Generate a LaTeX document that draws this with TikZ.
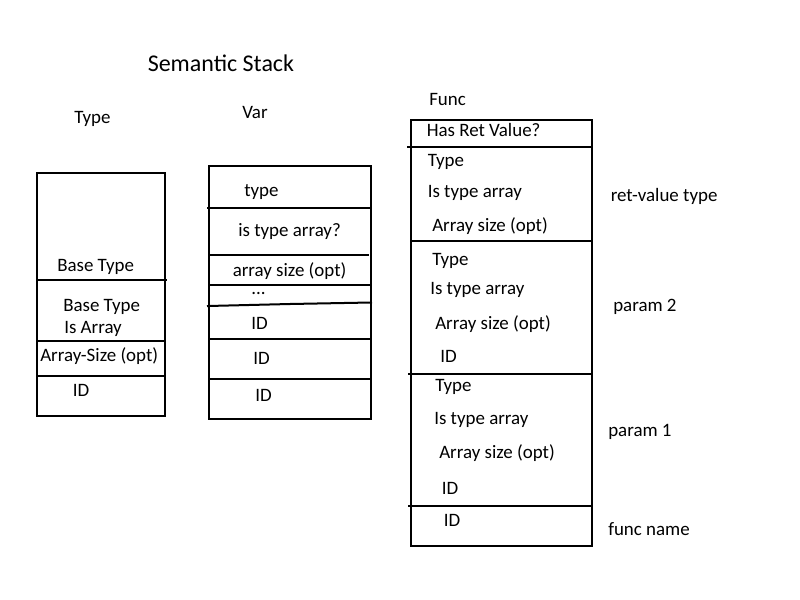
\documentclass[tikz,border=0pt]{standalone}
\usepackage{fontspec}
\setmainfont{Carlito}
\begin{document}
\begin{tikzpicture}[x=0.75pt,y=-0.75pt,
  lbl/.style={anchor=base west,inner sep=0pt,font=\fontsize{14.2}{17}\selectfont},
  ttl/.style={anchor=base west,inner sep=0pt,font=\fontsize{18}{21}\selectfont},
  ln/.style={line width=1.5pt,line cap=rect}]
\useasboundingbox[fill=white] (0,0) rectangle (800,600);
% title and headers
\node[ttl] (title) at (147.5,71) {Semantic Stack};
\node[lbl] (htype) at (74,123) {Type};
\node[lbl] (hvar) at (242,118) {Var};
\node[lbl] (hfunc) at (429,105) {Func};
% Type box
\draw[ln] (37,173) rectangle (165,416);
\draw[ln] (37,279.5) -- (166,279.5);
\draw[ln] (37,341) -- (165,341);
\draw[ln] (39,376) -- (165,376);
\node[lbl] (t1) at (57,271.5) {Base Type};
\node[lbl] (t2) at (63,311) {Base Type};
\node[lbl] (t3) at (64,333.5) {Is Array};
\node[lbl] (t4) at (40,361) {Array-Size (opt)};
\node[lbl] (t5) at (72.5,396) {ID};
% Var box
\draw[ln] (209,166) rectangle (371,419);
\draw[ln] (208,207.5) -- (371,207.5);
\draw[ln] (209,254.5) -- (368,254.5);
\draw[ln] (209,285) -- (371,285);
\draw[ln] (208,306) -- (290,304) -- (371,302.5);
\draw[ln] (209,339) -- (371,339);
\draw[ln] (209,378.5) -- (371,378.5);
\node[lbl] (v1) at (244,196) {type};
\node[lbl] (v2) at (238,236.5) {is type array?};
\node[lbl] (v3) at (232.5,276.5) {array size (opt)};
\node[lbl] (v4) at (251,294) {...};
\node[lbl] (v5) at (251,329) {ID};
\node[lbl] (v6) at (253,364) {ID};
\node[lbl] (v7) at (255,401) {ID};
% Func box
\draw[ln] (411,119.5) rectangle (591.5,545.5);
\draw[ln] (408,146.5) -- (591.5,146.5);
\draw[ln] (411,241) -- (591.5,241);
\draw[ln] (409,373.5) -- (590,373.5);
\draw[ln] (409,505.5) -- (591.5,505.5);
\node[lbl] (f0) at (426.5,136.5) {Has Ret Value?};
\node[lbl] (f1) at (427.5,166) {Type};
\node[lbl] (f2) at (427.5,197) {Is type array};
\node[lbl] (f3) at (432,231.5) {Array size (opt)};
\node[lbl] (f4) at (432,265) {Type};
\node[lbl] (f5) at (430,294) {Is type array};
\node[lbl] (f6) at (435,329.5) {Array size (opt)};
\node[lbl] (f7) at (440,362.5) {ID};
\node[lbl] (f8) at (435,391.5) {Type};
\node[lbl] (f9) at (434,424) {Is type array};
\node[lbl] (f10) at (439,458) {Array size (opt)};
\node[lbl] (f11) at (441.5,494) {ID};
\node[lbl] (f12) at (443.5,526.5) {ID};
% side labels
\node[lbl] (s1) at (610.5,201) {ret-value type};
\node[lbl] (s2) at (613,311.5) {param 2};
\node[lbl] (s3) at (608,436.5) {param 1};
\node[lbl] (s4) at (608,535.5) {func name};
\end{tikzpicture}
\end{document}
